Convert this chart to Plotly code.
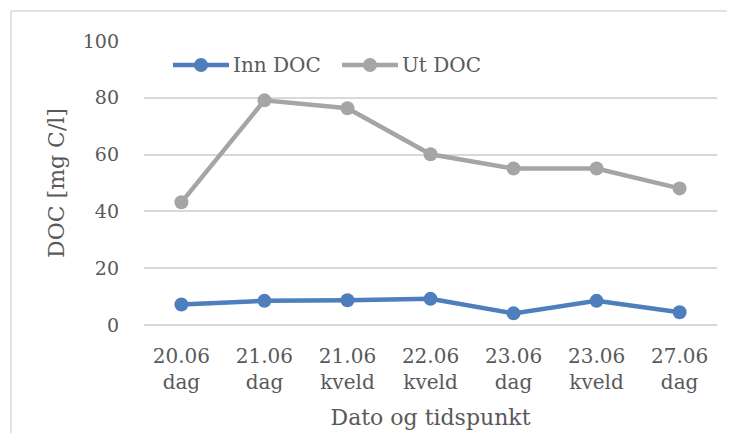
import plotly.graph_objects as go

categories = ["20.06<br>dag", "21.06<br>dag", "21.06<br>kveld", "22.06<br>kveld",
              "23.06<br>dag", "23.06<br>kveld", "27.06<br>dag"]
inn_doc = [7.2, 8.5, 8.7, 9.2, 4.1, 8.5, 4.5]
ut_doc = [43.2, 79.1, 76.3, 60.1, 55.1, 55.1, 48.1]
series = [("Inn DOC", inn_doc, "#4E7FBC"), ("Ut DOC", ut_doc, "#A5A5A5")]

font_family = "DejaVu Serif, Liberation Serif, serif"
text_col = "#595959"

# page body has an 8px margin, so the figure is sized and placed to fit inside it
W, H = 719, 425
L, T = 136, 33
R, B = W - 709, H - 317
pw, ph = W - L - R, H - T - B

def px(x):  # figure pixel -> paper x
    return (x - L) / pw

def py(y):  # figure pixel -> paper y
    return 1 - (y - T) / ph

fig = go.Figure()
for name, vals, col in series:
    fig.add_trace(go.Scatter(x=categories, y=vals, mode="lines+markers", name=name,
        line=dict(color=col, width=4.5), marker=dict(size=14, color=col)))

# legend drawn by hand so the sample line is as long as in the original
shapes, annos = [], []
leg_y = 57
for i, (name, vals, col) in enumerate(series):
    x0 = 165 + i * 169
    shapes.append(dict(type="line", xref="paper", yref="paper", x0=px(x0), x1=px(x0 + 56),
                       y0=py(leg_y), y1=py(leg_y), line=dict(color=col, width=4.5)))
    shapes.append(dict(type="circle", xref="paper", yref="paper", x0=px(x0 + 21), x1=px(x0 + 35),
                       y0=py(leg_y + 7), y1=py(leg_y - 7), fillcolor=col, line=dict(width=0)))
    annos.append(dict(text=name, xref="paper", yref="paper", x=px(x0 + 58), y=py(leg_y),
                      xanchor="left", yanchor="middle", showarrow=False,
                      font=dict(size=20, color=text_col)))

shapes.append(dict(type="rect", xref="paper", yref="paper",
                   x0=px(3), x1=px(W + 20), y0=py(H + 20), y1=py(3),
                   line=dict(color="#D9D9D9", width=1.5), fillcolor="rgba(0,0,0,0)", layer="below"))

fig.update_layout(
    width=W, height=H,
    paper_bgcolor="white", plot_bgcolor="white",
    margin=dict(l=L, r=R, t=T, b=B, autoexpand=False),
    font=dict(family=font_family, size=20, color=text_col),
    showlegend=False,
    shapes=shapes, annotations=annos,
)
fig.update_xaxes(type="category", showgrid=False, showline=False, ticks="",
                 ticklabelstandoff=17,
                 tickfont=dict(size=20, color=text_col),
                 title=dict(text="Dato og tidspunkt", font=dict(size=22, color=text_col), standoff=16))
fig.update_yaxes(range=[0, 100], dtick=20, showgrid=True, gridcolor="#D9D9D9", gridwidth=1.5,
                 zeroline=True, zerolinecolor="#D9D9D9", zerolinewidth=1.5, showline=False,
                 ticks="", ticklabelstandoff=24,
                 tickfont=dict(size=19, color=text_col),
                 title=dict(text="DOC [mg C/l]", font=dict(size=22, color=text_col), standoff=12))

fig.write_html("out.html")
